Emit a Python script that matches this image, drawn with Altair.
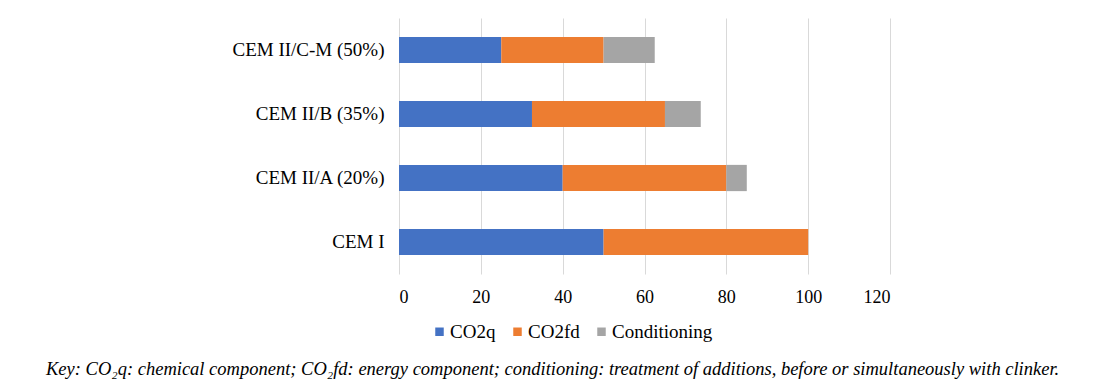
import altair as alt
import pandas as pd

categories = ["CEM II/C-M (50%)", "CEM II/B (35%)", "CEM II/A (20%)", "CEM I"]
series = ["CO2q", "CO2fd", "Conditioning"]
co2q = [25, 32.5, 40, 50]
co2fd = [25, 32.5, 40, 50]
conditioning = [12.5, 8.75, 5, 0]
colors = ["#4472C4", "#ED7D31", "#A5A5A5"]
x_ticks = [0, 20, 40, 60, 80, 100, 120]
caption = ("Key: CO\u2082q: chemical component; CO\u2082fd: energy component; "
           "conditioning: treatment of additions, before or simultaneously with clinker.")

rows = []
for i, c in enumerate(categories):
    for j, (s, vals) in enumerate(zip(series, [co2q, co2fd, conditioning])):
        rows.append({"cement": c, "series": s, "value": vals[i], "order": j})
df = pd.DataFrame(rows)

FONT = "'Liberation Serif', 'Times New Roman', serif"

chart = alt.Chart(df).mark_bar().encode(
    y=alt.Y("cement:N", sort=categories, title=None,
            scale=alt.Scale(paddingInner=0.59, paddingOuter=0.295),
            axis=alt.Axis(labelFont=FONT, labelFontSize=19, labelColor="#000000",
                          labelPadding=15, ticks=False, domain=False, grid=False)),
    x=alt.X("value:Q", stack="zero", title=None,
            scale=alt.Scale(domain=[0, 120], nice=False),
            axis=alt.Axis(values=x_ticks, labelFont=FONT, labelFontSize=18,
                          labelColor="#000000", labelPadding=14, ticks=False,
                          domain=False, grid=True, gridColor="#D9D9D9",
                          gridWidth=1)),
    color=alt.Color("series:N", sort=series,
                    scale=alt.Scale(domain=series, range=colors),
                    legend=alt.Legend(orient="none", direction="horizontal",
                                      legendX=31, legendY=304, title=None,
                                      symbolType="square", symbolSize=72,
                                      symbolStrokeWidth=0,
                                      labelFont=FONT, labelFontSize=19,
                                      labelColor="#000000", columnPadding=12,
                                      labelOffset=1)),
    order=alt.Order("order:Q"),
).properties(
    width=491,
    height=256,
    title=alt.TitleParams(caption, orient="bottom", anchor="start", frame="group",
                          dx=-353, offset=18, font=FONT, fontSize=18.5,
                          fontStyle="italic", fontWeight="normal", color="#000000"),
    autosize=alt.AutoSizeParams(type="none"),
    padding={"left": 391, "top": 10, "right": 205, "bottom": 112},
).configure_view(stroke=None)

chart.save("out.html", embed_options={"renderer": "svg", "actions": False})
